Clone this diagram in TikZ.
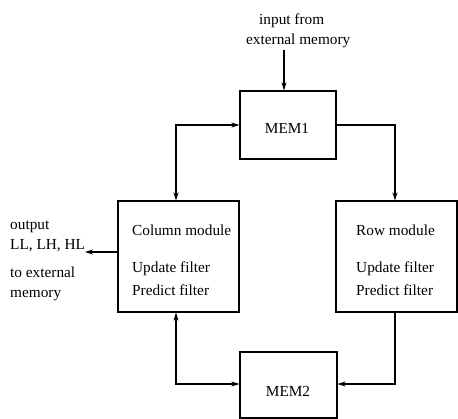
\documentclass[tikz,border=0pt]{standalone}
\usepackage{fontspec}
\setmainfont{Liberation Serif}
\usetikzlibrary{arrows.meta}
\begin{document}
\begin{tikzpicture}[x=1pt,y=-1pt,
  block/.style={draw,line width=1.1pt,rectangle,inner sep=0pt},
  lbl/.style={inner sep=0pt,anchor=base west,font=\fontsize{15.3}{18}\selectfont},
  wire/.style={line width=1.1pt,-{Stealth[length=8pt,width=5pt]}},
  wire2/.style={line width=1.1pt,{Stealth[length=8pt,width=5pt]}-{Stealth[length=8pt,width=5pt]}}]
\useasboundingbox (0,0) rectangle (458,418);
% memories and modules
\node[block,minimum width=96pt,minimum height=68pt] (mem1) at (288,125) {};
\node[lbl,anchor=center] (mem1t) at (287,128) {MEM1};
\node[block,minimum width=97pt,minimum height=66pt] (mem2) at (288.5,385) {};
\node[lbl,anchor=center] (mem2t) at (288,391) {MEM2};
\node[block,minimum width=121pt,minimum height=111pt] (col) at (178.5,256.5) {};
\node[block,minimum width=121pt,minimum height=111pt] (row) at (396.5,256.5) {};
% module contents
\node[lbl] (c1) at (132,235) {Column module};
\node[lbl] (c2) at (132,272) {Update filter};
\node[lbl] (c3) at (132,295) {Predict filter};
\node[lbl] (r1) at (356,235) {Row module};
\node[lbl] (r2) at (356,272) {Update filter};
\node[lbl] (r3) at (356,295) {Predict filter};
% external input and output labels
\node[lbl] (in1) at (259,24) {input from};
\node[lbl] (in2) at (246,44) {external memory};
\node[lbl] (o1) at (10,229) {output};
\node[lbl] (o2) at (10,249) {LL, LH, HL};
\node[lbl] (o3) at (10,277) {to external};
\node[lbl] (o4) at (10,297) {memory};
\coordinate (instart) at (284,50);
\coordinate (outtip) at (85,252);
\coordinate (colx) at (176,0);
\coordinate (rowx) at (395,0);
% connections
\draw[wire] (instart) -- (instart |- mem1.north);
\draw[wire2] (mem1.west) -| (colx |- col.north);
\draw[wire] (mem1.east) -| (rowx |- row.north);
\draw[wire] (rowx |- row.south) |- (mem2.east |- 0,384);
\draw[wire2] (colx |- col.south) |- (mem2.west |- 0,384);
\draw[wire] (col.west |- outtip) -- (outtip);
\end{tikzpicture}
\end{document}
